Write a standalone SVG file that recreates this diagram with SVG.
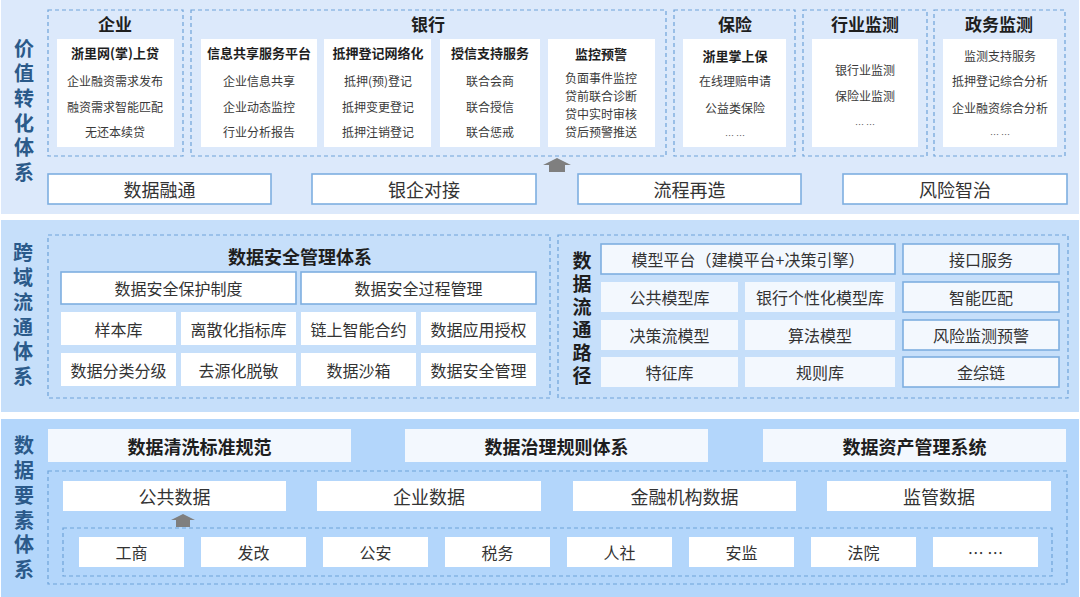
<svg xmlns="http://www.w3.org/2000/svg" width="1080" height="597" viewBox="0 0 1080 597">
<defs>
<style>
text{font-family:"Noto Sans CJK SC","Noto Sans",sans-serif;text-anchor:middle;dominant-baseline:central;fill:#333}
.lbl{font-size:20px;font-weight:bold;fill:#2b5a8a;writing-mode:vertical-rl;letter-spacing:4.8px}
.lbl2{font-size:19px;font-weight:bold;fill:#1e1e1e;writing-mode:vertical-rl;letter-spacing:4px}
.sec{font-size:17px;font-weight:bold;fill:#1e1e1e}
.sub{font-size:13px;font-weight:bold;fill:#1e1e1e}
.it{font-size:12px;fill:#3a3a3a}
.dots{font-size:9px;fill:#555}
.big{font-size:18px;fill:#333}
.mid{font-size:16px;fill:#333}
.bb{font-size:18px;font-weight:bold;fill:#1e1e1e}
.dash{fill:none;stroke:#6ea3d9;stroke-width:1.2;stroke-dasharray:4 3}
.wb{fill:#fff}
.bw{fill:#fff;stroke:#7eaee0;stroke-width:1.6}
.lb{fill:#f3f8fe}
.lbb{fill:#f3f8fe;stroke:#7eaee0;stroke-width:1.6}
.arr{fill:#7f7f7f}
</style>
</defs>

<!-- panels -->
<rect x="1" y="0" width="1078" height="214" fill="#dce9fb"/>
<rect x="1" y="220" width="1078" height="192" fill="#c6dffa"/>
<rect x="1" y="419" width="1078" height="178" fill="#b3d6fb"/>

<g id="label-value">
<text class="lbl" x="24" y="113">价值转化体系</text>
</g>

<g id="enterprise">
<rect class="dash" x="48" y="10" width="135" height="146"/>
<text class="sec" x="115" y="23">企业</text>
<rect class="wb" x="57" y="39" width="117" height="108"/>
<text class="sub" x="115" y="52">浙里网(掌)上贷</text>
<text class="it" x="115" y="80">企业融资需求发布</text>
<text class="it" x="115" y="106">融资需求智能匹配</text>
<text class="it" x="115" y="131">无还本续贷</text>
</g>

<g id="bank">
<rect class="dash" x="191" y="10" width="475" height="146"/>
<text class="sec" x="428" y="23">银行</text>
<rect class="wb" x="201" y="39" width="116" height="108"/>
<text class="sub" x="259" y="52">信息共享服务平台</text>
<text class="it" x="259" y="80">企业信息共享</text>
<text class="it" x="259" y="106">企业动态监控</text>
<text class="it" x="259" y="131">行业分析报告</text>
<rect class="wb" x="324" y="39" width="107" height="108"/>
<text class="sub" x="378" y="52">抵押登记网络化</text>
<text class="it" x="378" y="80">抵押(预)登记</text>
<text class="it" x="378" y="106">抵押变更登记</text>
<text class="it" x="378" y="131">抵押注销登记</text>
<rect class="wb" x="440" y="39" width="100" height="108"/>
<text class="sub" x="490" y="52">授信支持服务</text>
<text class="it" x="490" y="80">联合会商</text>
<text class="it" x="490" y="106">联合授信</text>
<text class="it" x="490" y="131">联合惩戒</text>
<rect class="wb" x="548" y="39" width="107" height="108"/>
<text class="sub" x="601" y="53">监控预警</text>
<text class="it" x="601" y="77">负面事件监控</text>
<text class="it" x="601" y="95">贷前联合诊断</text>
<text class="it" x="601" y="113">贷中实时审核</text>
<text class="it" x="601" y="131">贷后预警推送</text>
</g>

<g id="insurance">
<rect class="dash" x="674" y="10" width="121" height="146"/>
<text class="sec" x="735" y="23">保险</text>
<rect class="wb" x="683" y="39" width="103" height="108"/>
<text class="sub" x="735" y="55">浙里掌上保</text>
<text class="it" x="735" y="80">在线理赔申请</text>
<text class="it" x="735" y="107">公益类保险</text>
<text class="dots" x="735" y="135">… …</text>
</g>

<g id="industry-monitor">
<rect class="dash" x="803" y="10" width="124" height="146"/>
<text class="sec" x="865" y="23">行业监测</text>
<rect class="wb" x="812" y="39" width="106" height="108"/>
<text class="it" x="865" y="69">银行业监测</text>
<text class="it" x="865" y="95">保险业监测</text>
<text class="dots" x="865" y="124">… …</text>
</g>

<g id="gov-monitor">
<rect class="dash" x="934" y="10" width="131" height="146"/>
<text class="sec" x="999" y="23">政务监测</text>
<rect class="wb" x="943" y="39" width="114" height="108"/>
<text class="it" x="1000" y="55">监测支持服务</text>
<text class="it" x="1000" y="80">抵押登记综合分析</text>
<text class="it" x="1000" y="107">企业融资综合分析</text>
<text class="dots" x="1000" y="134">… …</text>
</g>

<g id="top-bar">
<rect class="bw" x="48" y="174" width="223" height="30"/>
<text class="big" x="159.5" y="189">数据融通</text>
<rect class="bw" x="312" y="174" width="224" height="30"/>
<text class="big" x="424" y="189">银企对接</text>
<rect class="bw" x="578" y="174" width="223" height="30"/>
<text class="big" x="689.5" y="189">流程再造</text>
<rect class="bw" x="843" y="174" width="224" height="30"/>
<text class="big" x="955" y="189">风险智治</text>
</g>

<g id="label-cross">
<text class="lbl" x="23" y="317">跨域流通体系</text>
</g>

<g id="security">
<rect class="dash" x="48" y="235" width="502" height="163"/>
<text class="bb" x="300" y="256">数据安全管理体系</text>
<rect class="bw" x="61" y="272" width="235" height="32"/>
<text class="mid" x="178.5" y="288">数据安全保护制度</text>
<rect class="bw" x="301" y="272" width="235" height="32"/>
<text class="mid" x="418.5" y="288">数据安全过程管理</text>
<rect class="wb" x="61" y="312" width="115" height="33"/>
<text class="mid" x="118.5" y="328.5">样本库</text>
<rect class="wb" x="181" y="312" width="115" height="33"/>
<text class="mid" x="238.5" y="328.5">离散化指标库</text>
<rect class="wb" x="301" y="312" width="115" height="33"/>
<text class="mid" x="358.5" y="328.5">链上智能合约</text>
<rect class="wb" x="421" y="312" width="115" height="33"/>
<text class="mid" x="478.5" y="328.5">数据应用授权</text>
<rect class="wb" x="61" y="353" width="115" height="33"/>
<text class="mid" x="118.5" y="369.5">数据分类分级</text>
<rect class="wb" x="181" y="353" width="115" height="33"/>
<text class="mid" x="238.5" y="369.5">去源化脱敏</text>
<rect class="wb" x="301" y="353" width="115" height="33"/>
<text class="mid" x="358.5" y="369.5">数据沙箱</text>
<rect class="wb" x="421" y="353" width="115" height="33"/>
<text class="mid" x="478.5" y="369.5">数据安全管理</text>
</g>

<g id="flow-path">
<rect class="dash" x="558" y="235" width="510" height="163"/>
<text class="lbl2" x="582" y="320">数据流通路径</text>
<rect class="lbb" x="601" y="244" width="294" height="30"/>
<text class="mid" x="748" y="259">模型平台（建模平台+决策引擎）</text>
<rect class="lbb" x="903" y="244" width="156" height="30"/>
<text class="mid" x="981" y="259">接口服务</text>
<rect class="lb" x="601" y="282" width="137" height="30"/>
<text class="mid" x="669.5" y="297">公共模型库</text>
<rect class="lb" x="745" y="282" width="150" height="30"/>
<text class="mid" x="820" y="297">银行个性化模型库</text>
<rect class="lbb" x="903" y="282" width="156" height="30"/>
<text class="mid" x="981" y="297">智能匹配</text>
<rect class="lb" x="601" y="320" width="137" height="30"/>
<text class="mid" x="669.5" y="335">决策流模型</text>
<rect class="lb" x="745" y="320" width="150" height="30"/>
<text class="mid" x="820" y="335">算法模型</text>
<rect class="lbb" x="903" y="320" width="156" height="30"/>
<text class="mid" x="981" y="335">风险监测预警</text>
<rect class="lb" x="601" y="357" width="137" height="30"/>
<text class="mid" x="669.5" y="372">特征库</text>
<rect class="lb" x="745" y="357" width="150" height="30"/>
<text class="mid" x="820" y="372">规则库</text>
<rect class="lbb" x="903" y="357" width="156" height="30"/>
<text class="mid" x="981" y="372">金综链</text>
</g>

<g id="label-element">
<text class="lbl" x="24" y="510">数据要素体系</text>
</g>

<g id="standards">
<rect class="lb" x="48" y="429" width="303" height="33"/>
<text class="bb" x="199.5" y="445.5">数据清洗标准规范</text>
<rect class="lb" x="405" y="429" width="303" height="33"/>
<text class="bb" x="556.5" y="445.5">数据治理规则体系</text>
<rect class="lb" x="763" y="429" width="303" height="33"/>
<text class="bb" x="914.5" y="445.5">数据资产管理系统</text>
</g>

<g id="data-sources">
<rect class="dash" x="48" y="471" width="1019" height="113"/>
<rect class="wb" x="63" y="481" width="223" height="30"/>
<text class="big" x="174.5" y="496">公共数据</text>
<rect class="wb" x="317" y="481" width="224" height="30"/>
<text class="big" x="429" y="496">企业数据</text>
<rect class="wb" x="573" y="481" width="223" height="30"/>
<text class="big" x="684.5" y="496">金融机构数据</text>
<rect class="wb" x="827" y="481" width="224" height="30"/>
<text class="big" x="939" y="496">监管数据</text>
</g>

<g id="public-sources">
<rect class="dash" x="63" y="528" width="989" height="48"/>
<rect class="wb" x="79" y="537" width="105" height="30"/>
<text class="mid" x="131.5" y="552">工商</text>
<rect class="wb" x="201" y="537" width="105" height="30"/>
<text class="mid" x="253.5" y="552">发改</text>
<rect class="wb" x="323" y="537" width="105" height="30"/>
<text class="mid" x="375.5" y="552">公安</text>
<rect class="wb" x="445" y="537" width="105" height="30"/>
<text class="mid" x="497.5" y="552">税务</text>
<rect class="wb" x="567" y="537" width="105" height="30"/>
<text class="mid" x="619.5" y="552">人社</text>
<rect class="wb" x="689" y="537" width="105" height="30"/>
<text class="mid" x="741.5" y="552">安监</text>
<rect class="wb" x="811" y="537" width="105" height="30"/>
<text class="mid" x="863.5" y="552">法院</text>
<rect class="wb" x="933" y="537" width="105" height="30"/>
<text class="mid" x="985.5" y="552">… …</text>
</g>

<g id="connectors">
<polygon class="arr" points="557,158 571,165 565,165 565,172 549,172 549,165 543,165"/>
<polygon class="arr" points="183,514 195,520 190,520 190,527 176,527 176,520 171,520"/>
</g>
</svg>
